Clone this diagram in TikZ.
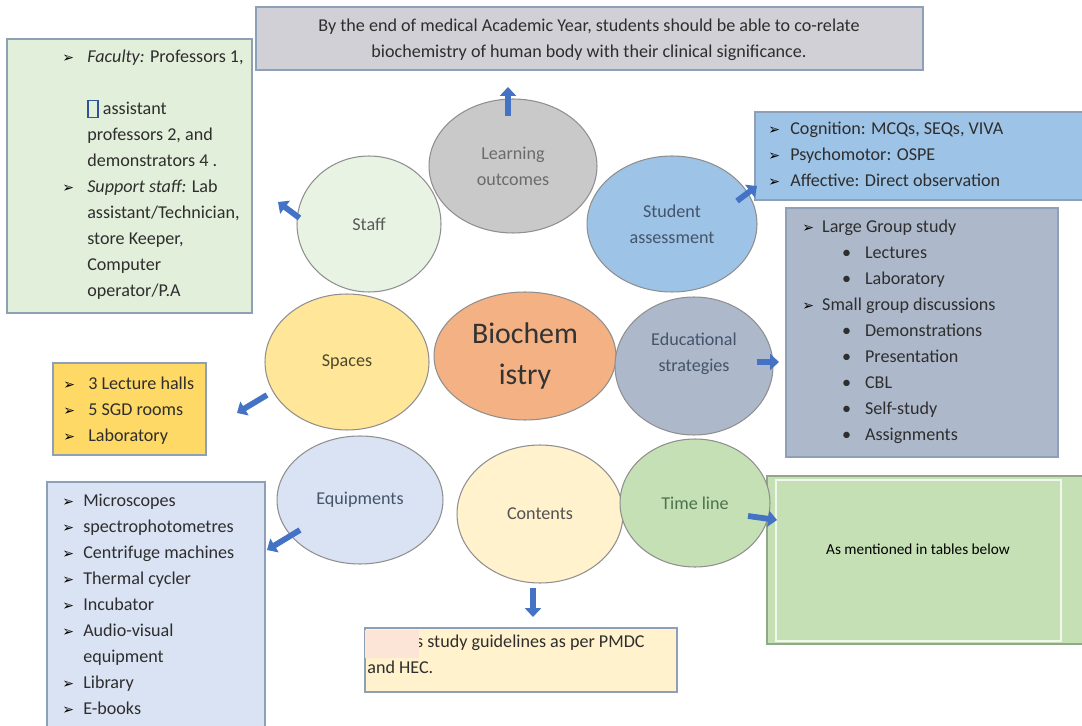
\documentclass[tikz,border=0pt]{standalone}
\usepackage{fontspec}
\setmainfont{Carlito}
\newfontfamily\dingfont{DejaVu Sans}
\usetikzlibrary{shapes.geometric,arrows.meta,calc}

\definecolor{outcomefill}{HTML}{D0D0D6}
\definecolor{stafffill}{HTML}{E2EFDA}
\definecolor{lofill}{HTML}{C9C9C9}
\definecolor{assessfill}{HTML}{9DC3E6}
\definecolor{edufill}{HTML}{ADB9CA}
\definecolor{biofill}{HTML}{F4B183}
\definecolor{spacefill}{HTML}{FFE699}
\definecolor{spaceboxfill}{HTML}{FFD966}
\definecolor{equipfill}{HTML}{DAE3F3}
\definecolor{contentfill}{HTML}{FFF2CC}
\definecolor{patchfill}{HTML}{FCE4D6}
\definecolor{timefill}{HTML}{C5E0B4}
\definecolor{timeline}{HTML}{8FA88A}
\definecolor{arrowblue}{HTML}{4472C4}
\definecolor{glyphblue}{HTML}{2F5597}
\definecolor{bubbleline}{HTML}{8F8F8F}
\definecolor{frameline}{HTML}{8EA0B8}
\definecolor{listtext}{HTML}{2E2E2E}
\definecolor{slatetext}{HTML}{44546A}

\newcommand{\boxfont}{\fontsize{10.3}{14.8}\selectfont}
\newcommand{\topstrut}{\rule{0pt}{8pt}}
\newcommand{\arrowbul}[1][14pt]{\makebox[#1][l]{{\dingfont\fontsize{8}{8}\selectfont\color{black}➢}}}
\newcommand{\dotbul}{\hspace*{22.7pt}\makebox[13pt][l]{•}}
\newcommand{\notdef}{{\color{glyphblue}\setlength{\fboxsep}{0pt}\setlength{\fboxrule}{0.8pt}\fbox{\rule[-1.5pt]{0pt}{9pt}\hspace{5pt}}}}

\begin{document}
\begin{tikzpicture}[x=0.02cm,y=-0.02cm,
    bubble/.style={ellipse,draw=bubbleline,line width=0.6pt,inner sep=0pt,font=\boxfont,align=center},
    listtext/.style={anchor=north west,inner sep=0pt,align=left,font=\boxfont,text=listtext},
    frame/.style={draw=frameline,line width=0.6pt},
    fatarrow/.style={draw=arrowblue,line width=3.3pt,-{Triangle[length=5pt,width=9pt]}}]
    \useasboundingbox (0,0) rectangle (1082,726);
    \clip (0,0) rectangle (1082,726);

    % boxes
    \draw[frame,fill=outcomefill] (256,7) rectangle (923,70);
    \draw[frame,fill=stafffill] (7,39) rectangle (252,313);
    \draw[frame,fill=assessfill] (755,112) rectangle (1090,200);
    \draw[frame,fill=edufill] (786,208) rectangle (1058,457);
    \draw[frame,fill=spaceboxfill] (53,363) rectangle (206,455);
    \draw[frame,fill=equipfill] (47,482) rectangle (265,740);
    \draw[frame,fill=contentfill] (365,628) rectangle (677,692);
    \draw[draw=timeline,line width=0.8pt,fill=timefill] (767,476) rectangle (1095,644);
    \draw[draw=white!75!timefill,line width=0.6pt] (776,480) rectangle (1061,641);

    % box texts
    \node[font=\boxfont,text=listtext,align=center] (outcometext) at (589,40)
        {By the end of medical Academic Year, students should be able to co-relate\\
         biochemistry of human body with their clinical significance.};
    \node[listtext] (stafftext) at (62,48)
        {\topstrut\arrowbul[14.2pt]\textit{Faculty:} Professors 1,\\
         \\
         \hspace*{14.2pt}\notdef\ assistant\\
         \hspace*{14.2pt}professors 2, and\\
         \hspace*{14.2pt}demonstrators 4 .\\
         \arrowbul[14.2pt]\textit{Support staff:} Lab\\
         \hspace*{14.2pt}assistant/Technician,\\
         \hspace*{14.2pt}store Keeper,\\
         \hspace*{14.2pt}Computer\\
         \hspace*{14.2pt}operator/P.A};
    \node[listtext] (assesstext) at (768,120)
        {\topstrut\arrowbul[12.5pt]Cognition: MCQs, SEQs, VIVA\\
         \arrowbul[12.5pt]Psychomotor: OSPE\\
         \arrowbul[12.5pt]Affective: Direct observation};
    \node[listtext] (edutext) at (802,218)
        {\topstrut\arrowbul[11.3pt]Large Group study\\
         \dotbul Lectures\\
         \dotbul Laboratory\\
         \arrowbul[11.3pt]Small group discussions\\
         \dotbul Demonstrations\\
         \dotbul Presentation\\
         \dotbul CBL\\
         \dotbul Self-study\\
         \dotbul Assignments};
    \node[listtext] (spacetext) at (63,375)
        {\topstrut\arrowbul[14.2pt]3 Lecture halls\\
         \arrowbul[14.2pt]5 SGD rooms\\
         \arrowbul[14.2pt]Laboratory};
    \node[listtext] (equiptext) at (62,492)
        {\topstrut\arrowbul[11.9pt]Microscopes\\
         \arrowbul[11.9pt]spectrophotometres\\
         \arrowbul[11.9pt]Centrifuge machines\\
         \arrowbul[11.9pt]Thermal cycler\\
         \arrowbul[11.9pt]Incubator\\
         \arrowbul[11.9pt]Audio-visual\\
         \hspace*{11.9pt}equipment\\
         \arrowbul[11.9pt]Library\\
         \arrowbul[11.9pt]E-books};
    \node[listtext] (contenttext) at (367,633)
        {\topstrut\hspace*{27.8pt}s study guidelines as per PMDC\\
         and HEC.};
    \fill[patchfill] (365,630) rectangle (419,658);
    \node[font=\fontsize{8.7}{10}\selectfont,text=black] (timetext) at (918,549) {As mentioned in tables below};

    % bubbles
    \node[bubble,fill=lofill,text=black!58,minimum width=3.36cm,minimum height=2.68cm] (lo) at (513,166) {Learning\\outcomes};
    \node[bubble,fill=stafffill!75!white,text=black!65,minimum width=2.88cm,minimum height=2.72cm] (staff) at (369,224) {Staff};
    \node[bubble,fill=assessfill,text=slatetext,minimum width=3.4cm,minimum height=2.72cm] (assess) at (672,224) {Student\\assessment};
    \node[bubble,fill=spacefill,text=black!60!olive,minimum width=3.28cm,minimum height=2.72cm] (spaces) at (347,362) {Spaces};
    \node[bubble,fill=biofill,text=black!80,font=\fontsize{17}{23}\selectfont,minimum width=3.64cm,minimum height=2.56cm] (bio) at (525,356) {Biochem\\istry};
    \node[bubble,fill=edufill,minimum width=3.16cm,minimum height=2.76cm] (edu) at (694,366) {};
    \node[font=\boxfont,text=slatetext,align=center] (edulabel) at (694,354) {Educational\\strategies};
    \node[bubble,fill=equipfill,text=slatetext,minimum width=3.32cm,minimum height=2.56cm] (equip) at (360,500) {Equipments};
    \node[bubble,fill=contentfill,text=black!68,minimum width=3.32cm,minimum height=2.76cm] (contents) at (540,514) {Contents};
    \node[bubble,fill=timefill,text=black!62!green!40!gray,minimum width=3.0cm,minimum height=2.56cm] (timeline) at (695,503) {Time line};

    % arrow tips
    \coordinate (lo-tip) at (508,87);
    \coordinate (staff-tip) at (278,202);
    \coordinate (assess-tip) at (757,186);
    \coordinate (edu-tip) at (779,362);
    \coordinate (spaces-tip) at (237,413);
    \coordinate (equip-tip) at (267,550);
    \coordinate (contents-tip) at (533,617);
    \coordinate (timeline-tip) at (777,520);

    \draw[fatarrow] ($(lo.north)+(-5,18)$) -- (lo-tip);
    \draw[fatarrow] ($(staff.west)+(3,-6)$) -- (staff-tip);
    \draw[fatarrow] ($(assess.center)+(65,-23)$) -- (assess-tip);
    \draw[fatarrow] ($(edu.east)+(-17,-4)$) -- (edu-tip);
    \draw[fatarrow] ($(spaces.center)+(-80,33)$) -- (spaces-tip);
    \draw[fatarrow] ($(equip.center)+(-60,30)$) -- (equip-tip);
    \draw[fatarrow] ($(contents.south)+(-7,4)$) -- (contents-tip);
    \draw[fatarrow] ($(timeline.center)+(53,13)$) -- (timeline-tip);
\end{tikzpicture}
\end{document}
